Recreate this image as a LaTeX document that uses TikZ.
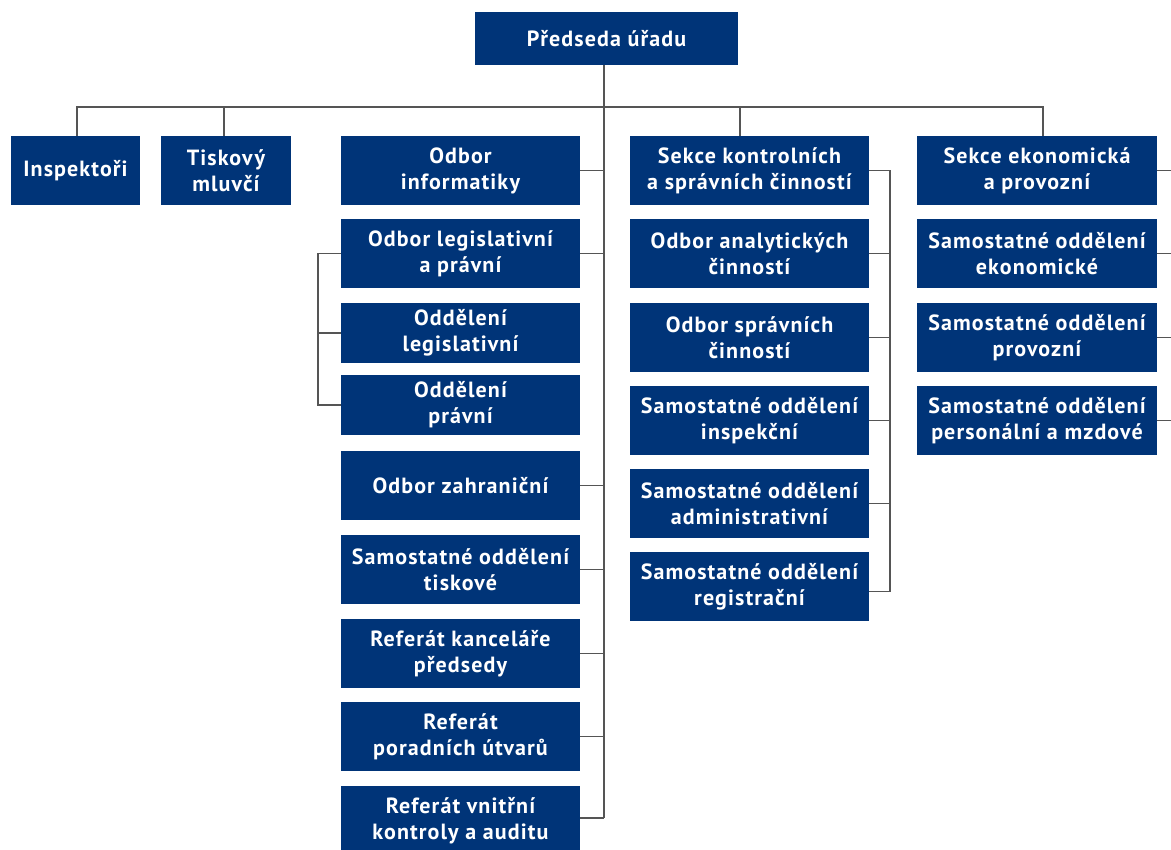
\documentclass[tikz,border=0pt]{standalone}
\usepackage{fontspec}
\setmainfont[LetterSpace=5]{PT Sans}
\definecolor{boxblue}{RGB}{0,52,120}
\definecolor{linegray}{RGB}{85,85,85}
\begin{document}
\begin{tikzpicture}[x=1pt,y=-1pt,
  box/.style={fill=boxblue,text=white,align=center,inner sep=0pt,
    font=\fontsize{22}{26}\selectfont\bfseries,minimum width=239pt,minimum height=69pt},
  conn/.style={draw=linegray,line width=1.3pt}]
\useasboundingbox (0,0) rectangle (1171,850);
\clip (0,0) rectangle (1171,850);
% nodes
\node[box,minimum width=263pt,minimum height=53pt] (pred) at (606.5,38.5) {Předseda úřadu};
\node[box,minimum width=129pt] (insp) at (75.5,170.5) {Inspektoři};
\node[box,minimum width=130pt] (tisk) at (226,170.5) {Tiskový\\mluvčí};
% left column
\node[box] (inf) at (460.5,170.5) {Odbor\\informatiky};
\node[box] (leg) at (460.5,253.5) {Odbor legislativní\\a právní};
\node[box,minimum height=60pt] (oleg) at (460.5,333) {Oddělení\\legislativní};
\node[box,minimum height=60pt] (opr) at (460.5,405) {Oddělení\\právní};
\node[box] (zahr) at (460.5,485.5) {Odbor zahraniční};
\node[box] (tisko) at (460.5,569.5) {Samostatné oddělení\\tiskové};
\node[box] (kanc) at (460.5,653.5) {Referát kanceláře\\předsedy};
\node[box] (por) at (460.5,736.5) {Referát\\poradních útvarů};
\node[box] (vnit) at (460.5,820.5) {Referát vnitřní\\kontroly a auditu};
% middle column
\node[box] (sk) at (749.5,170.5) {Sekce kontrolních\\a správních činností};
\node[box] (ana) at (749.5,253.5) {Odbor analytických\\činností};
\node[box] (spr) at (749.5,337.5) {Odbor správních\\činností};
\node[box] (ins) at (749.5,420.5) {Samostatné oddělení\\inspekční};
\node[box] (adm) at (749.5,503.5) {Samostatné oddělení\\administrativní};
\node[box] (reg) at (749.5,586.5) {Samostatné oddělení\\registrační};
% right column
\node[box,minimum width=240pt] (se) at (1037,170.5) {Sekce ekonomická\\a provozní};
\node[box,minimum width=240pt] (eko) at (1037,253.5) {Samostatné oddělení\\ekonomické};
\node[box,minimum width=240pt] (prov) at (1037,337.5) {Samostatné oddělení\\provozní};
\node[box,minimum width=240pt] (pers) at (1037,420.5) {Samostatné oddělení\\personální a mzdové};
% helper coordinates
\coordinate (bar) at (604,107);
\coordinate (tr) at (604,818);
\coordinate (lb) at (318,0);
\coordinate (mb) at (890,0);
\coordinate (rb) at (1171,0);
% connectors
\draw[conn] (pred.south -| bar) -- (tr);
\draw[conn] ([xshift=1.5pt]insp.north) |- (bar);
\draw[conn] ([xshift=-2pt]tisk.north) |- (bar);
\draw[conn] ([xshift=-9.5pt]sk.north) |- (bar);
\draw[conn] ([xshift=6pt]se.north) |- (bar);
\foreach \n in {inf,leg,zahr,tisko,kanc,por}
  \draw[conn] (\n.east) -- (\n.east -| tr);
\draw[conn] (vnit.east |- tr) -- (tr);
\draw[conn] (leg.west) -- (leg.west -| lb) -- (opr.west -| lb) -- (opr.west);
\draw[conn] (oleg.west) -- (oleg.west -| lb);
\draw[conn] (sk.east) -- (sk.east -| mb) -- ([yshift=-5pt]reg.east -| mb) -- ([yshift=-5pt]reg.east);
\foreach \n in {ana,spr,ins,adm}
  \draw[conn] (\n.east) -- (\n.east -| mb);
\foreach \n in {se,eko,prov,pers}
  \draw[conn] (\n.east) -- (\n.east -| rb);
\end{tikzpicture}
\end{document}
